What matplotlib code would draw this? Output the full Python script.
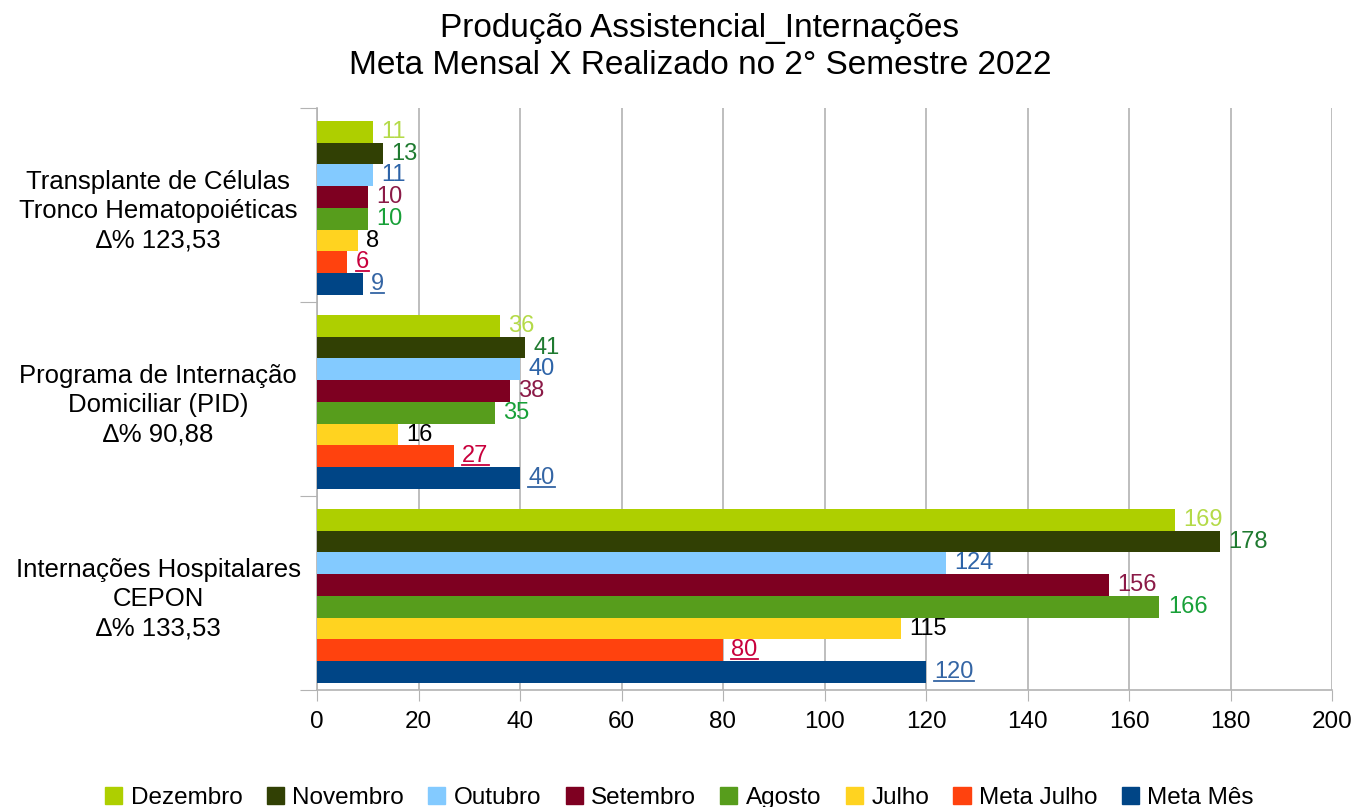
import matplotlib
matplotlib.use("Agg")
import matplotlib.pyplot as plt
from matplotlib.patches import Patch
from matplotlib.lines import Line2D
import numpy as np

plt.rcParams['font.family'] = ['Liberation Sans', 'DejaVu Sans']

# Dados
categorias = ["Internações Hospitalares\nCEPON\n∆% 133,53",
              "Programa de Internação\nDomiciliar (PID)\n∆% 90,88",
              "Transplante de Células\nTronco Hematopoiéticas\n∆% 123,53"]
series = ["Dezembro", "Novembro", "Outubro", "Setembro", "Agosto", "Julho", "Meta Julho", "Meta Mês"]
# valores na ordem das categorias (Internações, PID, TCTH)
dezembro = [169, 36, 11]
novembro = [178, 41, 13]
outubro = [124, 40, 11]
setembro = [156, 38, 10]
agosto = [166, 35, 10]
julho = [115, 16, 8]
meta_julho = [80, 27, 6]
meta_mes = [120, 40, 9]
valores = [dezembro, novembro, outubro, setembro, agosto, julho, meta_julho, meta_mes]

cores = ["#aecf00", "#314004", "#83caff", "#7e0021", "#579d1c", "#ffd320", "#ff420e", "#004586"]
cores_rotulo = ["#b4da48", "#1f7a30", "#2e64a8", "#8b1a47", "#18a038", "#000000", "#c8003c", "#3465a4"]
sublinhado = [False, False, False, False, False, False, True, True]

fig = plt.figure(figsize=(13.59, 8.07), dpi=100)
ax = fig.add_axes([317/1359, 1 - 690/807, (1332-317)/1359, (690-108)/807])

h = 0.112
pos = np.arange(len(categorias))
textos_sub = []
for i, (nome, vals) in enumerate(zip(series, valores)):
    y = pos + (3.5 - i) * h - 0.015
    ax.barh(y, vals, height=h, color=cores[i], label=nome, zorder=3)
    for yy, v in zip(y, vals):
        t = ax.annotate(str(v), (v, yy), xytext=(6, 0), textcoords="offset points",
                        va="center", ha="left", fontsize=17, color=cores_rotulo[i], zorder=4)
        if sublinhado[i]:
            textos_sub.append((t, cores_rotulo[i]))

ax.set_xlim(0, 200)
ax.set_ylim(-0.5, 2.5)
ax.set_xticks(np.arange(0, 201, 20))
ax.tick_params(axis="x", labelsize=17.5, length=8, color="#b3b3b3", pad=7)
ax.set_yticks([-0.5, 0.5, 1.5, 2.5])
ax.set_yticklabels([])
ax.tick_params(axis="y", length=12, color="#b3b3b3")
ax.grid(axis="x", color="#b3b3b3", linewidth=1.2, zorder=0)
for lado in ["top", "right"]:
    ax.spines[lado].set_visible(False)
for lado in ["left", "bottom"]:
    ax.spines[lado].set_color("#b3b3b3")
    ax.spines[lado].set_linewidth(1.2)

for p, cat in zip(pos, categorias):
    ax.annotate(cat, (0, p), xycoords=("axes fraction", "data"), xytext=(-159, -6),
                textcoords="offset pixels", ha="center", va="center",
                multialignment="center", fontsize=18.5, linespacing=1.28)

fig.text(700/1359, 1 - 47/807, "Produção Assistencial_Internações\nMeta Mensal X Realizado no 2° Semestre 2022",
         ha="center", va="center", fontsize=24, linespacing=1.22)

handles = [Patch(color=c) for c in cores]
fig.legend(handles, series, loc="lower center", bbox_to_anchor=(0.5, -0.03), ncol=8,
           frameon=False, fontsize=17.5, handlelength=0.7, handleheight=0.7,
           handletextpad=0.35, columnspacing=1.0)

# sublinhar rótulos das metas
fig.canvas.draw()
renderer = fig.canvas.get_renderer()
for t, c in textos_sub:
    bb = t.get_window_extent(renderer).transformed(fig.transFigure.inverted())
    yline = bb.y0 + 2 / 807
    fig.add_artist(Line2D([bb.x0, bb.x1], [yline, yline], transform=fig.transFigure,
                          color=c, linewidth=1.3))

fig.savefig("out.png", dpi=100)
